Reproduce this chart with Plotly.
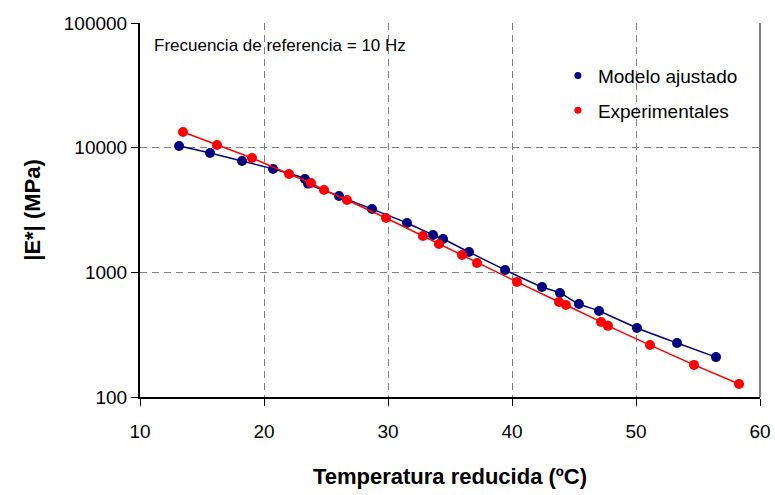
import plotly.graph_objects as go

# Modelo ajustado
temp_modelo = [13.15, 15.65, 18.23, 20.73, 23.3, 23.55, 26.05, 28.71, 31.53, 33.63, 34.44,
               36.53, 39.44, 42.42, 43.87, 45.40, 47.02, 50.08, 53.31, 56.45]
e_modelo = [10300, 9060, 7820, 6750, 5610, 5150, 4090, 3220, 2490, 1995, 1850,
            1455, 1045, 762, 682, 557, 490, 358, 271, 209]

# Experimentales
temp_exp = [13.47, 16.21, 19.03, 22.02, 23.79, 24.84, 26.69, 29.84, 32.82, 34.11, 35.97,
            37.18, 40.40, 43.79, 44.35, 47.18, 47.74, 51.13, 54.68, 58.31]
e_exp = [13370, 10500, 8260, 6150, 5210, 4570, 3800, 2730, 1955, 1690, 1377,
         1189, 838, 578, 547, 400, 372, 261, 181, 127]

x_ticks = [10, 20, 30, 40, 50, 60]
y_ticks = [100, 1000, 10000, 100000]
y_ticktext = ["100", "1000", "10000", "100000"]

NAVY = "#000080"
RED = "#FF0000"
FONT = "Liberation Sans, Arial, sans-serif"

fig = go.Figure()
fig.add_trace(go.Scatter(x=temp_modelo, y=e_modelo, mode="lines+markers",
                         line=dict(color=NAVY, width=1.5, shape="spline", smoothing=0.6),
                         marker=dict(color=NAVY, size=10), showlegend=False))
fig.add_trace(go.Scatter(x=temp_exp, y=e_exp, mode="lines+markers",
                         line=dict(color=RED, width=1.5),
                         marker=dict(color=RED, size=10), showlegend=False))
# legend entries
fig.add_trace(go.Scatter(x=[None], y=[None], mode="markers", name="Modelo ajustado",
                         marker=dict(color=NAVY, size=7), legendgroup="a"))
fig.add_trace(go.Scatter(x=[None], y=[None], mode="markers", name="Experimentales",
                         marker=dict(color=RED, size=7), legendgroup="b"))

grid = dict(showgrid=True, gridcolor="#808080", gridwidth=1, griddash="7px,5px")

fig.update_layout(
    template="none",
    width=775, height=495,
    margin=dict(l=140, r=15, t=23, b=98, autoexpand=False),
    paper_bgcolor="white", plot_bgcolor="white",
    font=dict(family=FONT, color="black", size=19),
    showlegend=True,
    legend=dict(x=0.674, y=0.910, xanchor="left", yanchor="top",
                font=dict(size=19, family=FONT), bgcolor="rgba(0,0,0,0)",
                tracegroupgap=7, itemwidth=30),
    xaxis=dict(range=[10, 60], tickvals=x_ticks, ticks="outside", ticklen=7,
               tickcolor="black", showline=True, linecolor="black", linewidth=1.5,
               zeroline=False, tickfont=dict(size=19), ticklabelstandoff=9,
               automargin=False,
               title=dict(text="<b>Temperatura reducida (ºC)</b>", font=dict(size=22), standoff=28),
               **grid),
    yaxis=dict(type="log", range=[2, 5], tickvals=y_ticks, ticktext=y_ticktext,
               ticks="outside", ticklen=7, tickcolor="black", showline=True,
               linecolor="black", linewidth=2, zeroline=False, tickfont=dict(size=19),
               automargin=False,
               title=dict(text="<b>|E*| (MPa)</b>", font=dict(size=22), standoff=17),
               **grid),
    annotations=[dict(text="Frecuencia de referencia = 10 Hz", xref="paper", yref="paper",
                      x=0.02, y=0.94, xanchor="left", yanchor="middle", showarrow=False,
                      font=dict(size=17, family=FONT))],
    shapes=[dict(type="line", xref="paper", yref="paper", x0=1, x1=1, y0=0, y1=1,
                 line=dict(color="black", width=1))],
)

fig.write_html("out.html", config={"displayModeBar": False},
               post_script="document.body.style.margin='0';document.body.style.overflow='hidden';")
